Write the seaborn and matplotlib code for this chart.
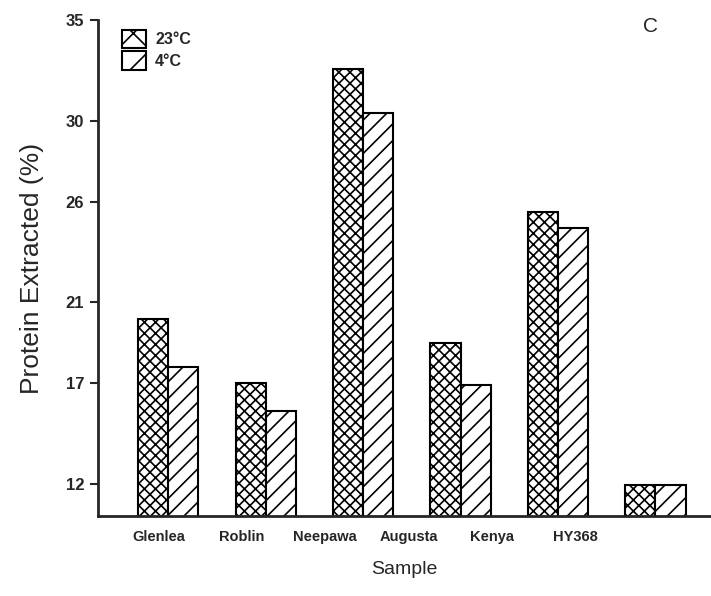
import numpy as np
import pandas as pd
import seaborn as sns
import matplotlib.pyplot as plt
from matplotlib.patches import Patch

# values
samples = ["Glenlea", "Roblin", "Neepawa", "Augusta", "Kenya", "HY368"]
temps = ["23°C", "4°C"]
protein_23 = [20.2, 17.0, 32.6, 19.0, 25.5, 11.95]
protein_4 = [17.8, 15.6, 30.4, 16.9, 24.7, 11.95]
y_ticks = [12, 17, 21, 26, 30, 35]


def main():
    df = pd.DataFrame({
        "Sample": samples * 2,
        "Temp": [temps[0]] * len(samples) + [temps[1]] * len(samples),
        "Protein": protein_23 + protein_4,
    })

    sns.set_style("white")
    plt.rcParams['font.family'] = ['Liberation Sans', 'DejaVu Sans']
    plt.rcParams['hatch.linewidth'] = 1.2

    fig = plt.figure(figsize=(7.11, 5.96), dpi=100)
    ax = fig.add_axes([0.138, 0.134, 0.862, 0.832])

    sns.barplot(data=df, x="Sample", y="Protein", hue="Temp", palette=["white", "white"],
                edgecolor="black", linewidth=1.5, width=0.62, gap=0, legend=False, ax=ax)
    for cont, h in zip(ax.containers, ["xxx", "//"]):
        for bar in cont:
            bar.set_hatch(h)

    ax.set_ylim(10.4, 35)
    ax.set_xlim(-0.72, 5.57)
    ax.set_yticks(y_ticks)
    ax.set_yticklabels([str(t) for t in y_ticks], fontsize=12, fontweight="bold")
    # the sample labels sit a bit left of the bar groups in the original
    ax.set_xticks(np.arange(len(samples)) * 0.855 - 0.1)
    ax.set_xticklabels(samples, fontsize=10.5, fontweight="bold")
    ax.tick_params(axis="x", length=0, pad=10)
    ax.tick_params(axis="y", direction="out", length=6, width=1.5, left=True, pad=4)

    sns.despine(ax=ax)
    ax.spines["left"].set_linewidth(2)
    ax.spines["bottom"].set_linewidth(2)

    ax.set_xlabel("Sample", fontsize=14, labelpad=12)
    ax.set_ylabel("Protein Extracted (%)", fontsize=19, labelpad=16)

    # legend boxes have a single X / single stroke in the original
    handles = [Patch(facecolor="white", edgecolor="black", hatch="x", linewidth=1.5),
               Patch(facecolor="white", edgecolor="black", hatch="/", linewidth=1.5)]
    ax.legend(handles, temps, loc="upper left", bbox_to_anchor=(0.015, 1.01), frameon=False,
              prop={"weight": "bold", "size": 11.5}, handlelength=1.5, handleheight=1.4,
              handletextpad=0.6, labelspacing=0.2)

    fig.text(0.905, 0.955, "C", fontsize=15, va="center")

    plt.savefig("out.png", dpi=100)


main()
